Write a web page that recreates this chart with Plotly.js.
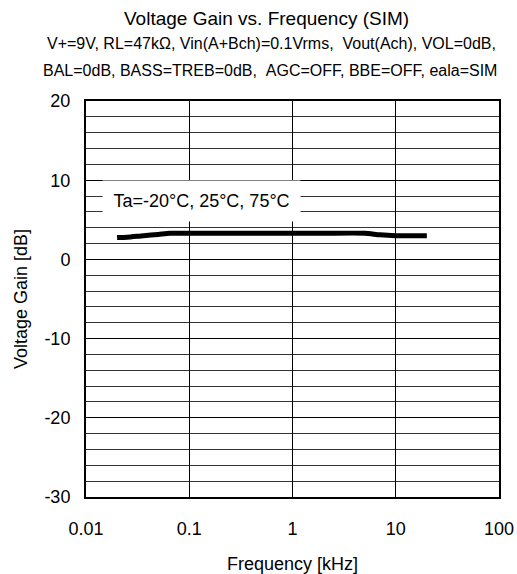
<!DOCTYPE html>
<html>
<head>
<meta charset="utf-8">
<script src="https://cdn.plot.ly/plotly-3.0.1.min.js"></script>
<style>html,body{margin:0;padding:0;background:#fff;}#chart{width:517px;height:574px;}</style>
</head>
<body>
<div id="chart"></div>
<script>
// Data
const freqKHz = [0.02, 0.025, 0.036, 0.05, 0.065, 0.1, 0.2, 0.5, 1, 2, 5, 7, 10, 15, 20];
const gainDB  = [2.75, 2.8, 3.0, 3.15, 3.3, 3.3, 3.3, 3.3, 3.3, 3.3, 3.3, 3.1, 3.0, 3.0, 3.0];
const seriesLabel = "Ta=-20°C, 25°C, 75°C";
const xTickVals = [0.01, 0.1, 1, 10, 100];
const xTickText = ["0.01", "0.1", "1", "10", "100"];
const yTickVals = [-30, -20, -10, 0, 10, 20];
const yTickText = ["-30", "-20", "-10", "0", "10", "20"];
const titleText = "Voltage Gain vs. Frequency (SIM)";
const subtitle1 = "V+=9V, RL=47kΩ, Vin(A+Bch)=0.1Vrms,\u00a0\u00a0Vout(Ach), VOL=0dB,";
const subtitle2 = "BAL=0dB, BASS=TREB=0dB,\u00a0\u00a0AGC=OFF, BBE=OFF, eala=SIM";
const xTitle = "Frequency [kHz]";
const yTitle = "Voltage Gain [dB]";

const font = "Liberation Sans, Arial, sans-serif";

const trace = {
  x: freqKHz, y: gainDB, type: "scatter", mode: "lines",
  name: seriesLabel,
  line: {color: "#000", width: 5, shape: "spline", smoothing: 0.6},
  hoverinfo: "x+y"
};

const layout = {
  width: 517, height: 574,
  margin: {l: 86, r: 18, t: 101, b: 77},
  paper_bgcolor: "#fff", plot_bgcolor: "#fff",
  showlegend: false,
  font: {family: font, color: "#000", size: 18},
  xaxis: {
    type: "log", range: [-2, 2],
    tickvals: xTickVals, ticktext: xTickText,
    showgrid: true, gridcolor: "#000", gridwidth: 1,
    showline: true, linecolor: "#000", linewidth: 2, mirror: true,
    ticks: "", ticklabelstandoff: 14,
    tickfont: {size: 18, family: font},
    zeroline: false,
    title: {text: xTitle, font: {size: 18, family: font}, standoff: 20}
  },
  yaxis: {
    range: [-30, 20], tickvals: yTickVals, ticktext: yTickText,
    showgrid: true, gridcolor: "#000", gridwidth: 1,
    minor: {dtick: 2, showgrid: true, gridcolor: "#333", gridwidth: 1, ticks: ""},
    showline: true, linecolor: "#000", linewidth: 2, mirror: true,
    ticks: "", ticklabelstandoff: 10,
    tickfont: {size: 18, family: font},
    zeroline: false,
    title: {text: yTitle, font: {size: 18, family: font}, standoff: 12}
  },
  annotations: [
    {text: titleText, xref: "paper", yref: "paper", x: 0.436, y: (497 - 18) / 396,
     xanchor: "center", yanchor: "middle", showarrow: false, font: {size: 19, family: font}},
    {text: subtitle1, xref: "paper", yref: "paper", x: 0.448, y: (497 - 44) / 396,
     xanchor: "center", yanchor: "middle", showarrow: false, font: {size: 16, family: font}},
    {text: subtitle2, xref: "paper", yref: "paper", x: 0.446, y: (497 - 70) / 396,
     xanchor: "center", yanchor: "middle", showarrow: false, font: {size: 16, family: font}},
    {text: seriesLabel, xref: "x", yref: "y", x: -0.881, y: 7.39,
     xanchor: "center", yanchor: "middle", showarrow: false,
     bgcolor: "#fff", width: 197, height: 40, borderpad: 0,
     font: {size: 18, family: font}}
  ]
};

Plotly.newPlot("chart", [trace], layout, {displayModeBar: false, staticPlot: true});
</script>
</body>
</html>
